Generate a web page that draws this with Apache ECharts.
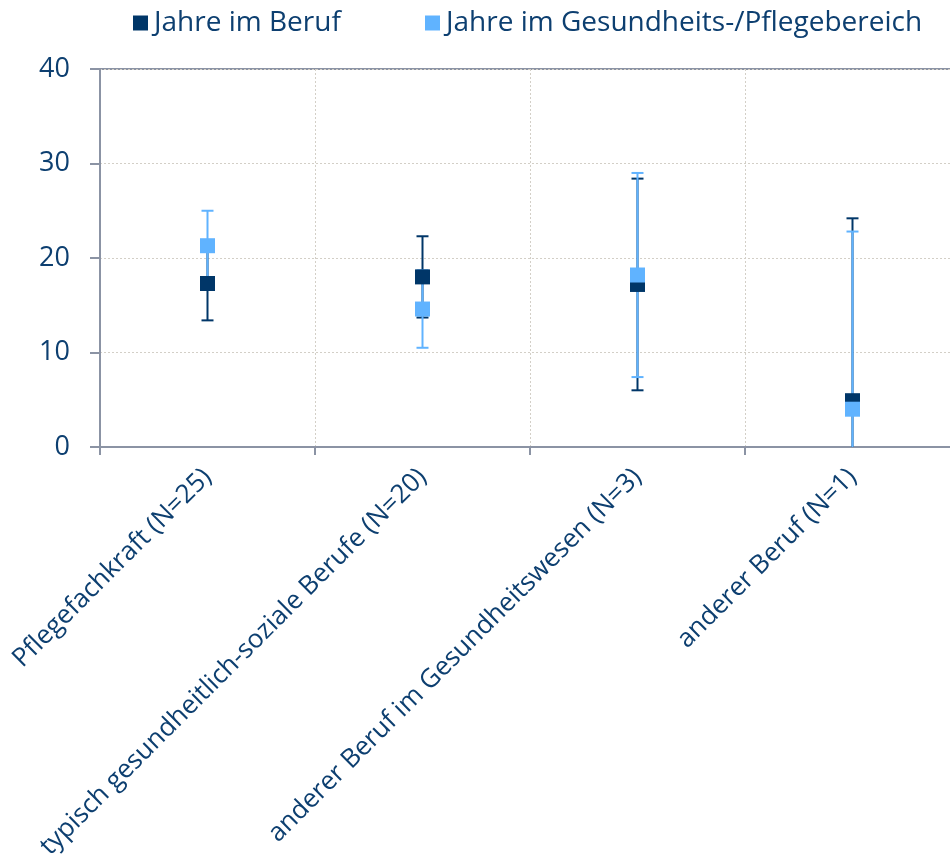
<!DOCTYPE html>
<html>
<head>
<meta charset="utf-8">
<script src="https://cdn.jsdelivr.net/npm/echarts@6/dist/echarts.min.js"></script>
<style>
  html, body { margin: 0; padding: 0; background: #ffffff; overflow: hidden; }
  #chart { width: 975px; height: 857px; }
</style>
</head>
<body>
<div id="chart"></div>
<script>
// Berufsgruppen (x-axis categories)
const categories = [
  'Pflegefachkraft (N=25)',
  'typisch gesundheitlich-soziale Berufe (N=20)',
  'anderer Beruf im Gesundheitswesen (N=3)',
  'anderer Beruf (N=1)'
];

// Mittelwerte und Standardabweichungen in Jahren
const beruf = [17.3, 18.0, 17.2, 4.9];
const berufSD = [3.9, 4.3, 11.2, 19.3];
const pflege = [21.3, 14.6, 18.2, 4.0];
const pflegeSD = [3.7, 4.1, 10.8, 18.8];

const yTicks = [0, 10, 20, 30, 40];

const seriesNames = ['Jahre im Beruf', 'Jahre im Gesundheits-/Pflegebereich'];

const DARK = '#003668';
const LIGHT = '#60b3ff';
const TEXT = '#0d3f70';
const AXIS = '#8b93a4';
const GRIDLINE = '#d3cfc7';
const FONT = '"Open Sans", "Noto Sans", sans-serif';

function errorData(means, sds) {
  return means.map((m, i) => [i, m - sds[i], m + sds[i]]);
}

// Vertical error bar with caps, cut at the plot boundaries
function errorRenderer(color) {
  return function (params, api) {
    const cs = params.coordSys;
    const bottom = cs.y + cs.height;
    const top = cs.y;
    const x = api.coord([api.value(0), 0])[0];
    const lowRaw = api.coord([api.value(0), api.value(1)])[1];
    const highRaw = api.coord([api.value(0), api.value(2)])[1];
    const low = Math.min(lowRaw, bottom);
    const high = Math.max(highRaw, top);
    const half = 6;
    const style = { stroke: color, lineWidth: 2 };
    const children = [
      { type: 'line', shape: { x1: x, y1: low, x2: x, y2: high }, style: style }
    ];
    if (lowRaw <= bottom) {
      children.push({ type: 'line', shape: { x1: x - half, y1: low, x2: x + half, y2: low }, style: style });
    }
    if (highRaw >= top) {
      children.push({ type: 'line', shape: { x1: x - half, y1: high, x2: x + half, y2: high }, style: style });
    }
    return { type: 'group', children: children };
  };
}

const chart = echarts.init(document.getElementById('chart'), null, { renderer: 'canvas' });

const legendText = { color: TEXT, fontFamily: FONT, fontSize: 28, lineHeight: 34, padding: [0, 0, 0, 1] };

chart.setOption({
  animation: false,
  backgroundColor: '#ffffff',
  legend: [
    {
      left: 133, top: 6, padding: 0,
      data: [seriesNames[0]],
      icon: 'rect', itemWidth: 15, itemHeight: 15,
      textStyle: legendText
    },
    {
      left: 425, top: 6, padding: 0,
      data: [seriesNames[1]],
      icon: 'rect', itemWidth: 15, itemHeight: 15,
      textStyle: legendText
    }
  ],
  grid: {
    left: 100, top: 69, width: 860, height: 378,
    show: true, borderColor: AXIS, borderWidth: 2, backgroundColor: 'transparent',
    containLabel: false,
    outerBoundsMode: 'none'
  },
  xAxis: {
    type: 'category',
    data: categories,
    boundaryGap: true,
    axisLine: { lineStyle: { color: AXIS, width: 2 } },
    axisTick: { show: true, interval: 0, length: 8, lineStyle: { color: AXIS, width: 2 } },
    splitLine: { show: true, interval: 0, lineStyle: { color: GRIDLINE, type: [2, 2], width: 1 } },
    axisLabel: {
      interval: 0, rotate: 45, margin: 26,
      color: TEXT, fontFamily: FONT, fontSize: 26
    }
  },
  yAxis: {
    type: 'value',
    min: yTicks[0], max: yTicks[yTicks.length - 1], interval: 10,
    axisLine: { show: true, lineStyle: { color: AXIS, width: 2 } },
    axisTick: { show: true, length: 10, lineStyle: { color: AXIS, width: 2 } },
    splitLine: { show: true, lineStyle: { color: GRIDLINE, type: [2, 2], width: 1 } },
    axisLabel: { margin: 30, color: TEXT, fontFamily: FONT, fontSize: 27 }
  },
  series: [
    {
      name: seriesNames[0] + ' SD',
      type: 'custom',
      renderItem: errorRenderer(DARK),
      data: errorData(beruf, berufSD),
      encode: { x: 0, y: [1, 2] },
      z: 2, silent: true
    },
    {
      name: seriesNames[1] + ' SD',
      type: 'custom',
      renderItem: errorRenderer(LIGHT),
      data: errorData(pflege, pflegeSD),
      encode: { x: 0, y: [1, 2] },
      z: 3, silent: true
    },
    {
      name: seriesNames[0],
      type: 'scatter',
      data: beruf,
      symbol: 'rect', symbolSize: 15,
      itemStyle: { color: DARK, opacity: 1 },
      z: 4
    },
    {
      name: seriesNames[1],
      type: 'scatter',
      data: pflege,
      symbol: 'rect', symbolSize: 15,
      itemStyle: { color: LIGHT, opacity: 1 },
      z: 5
    }
  ]
});
</script>
</body>
</html>
